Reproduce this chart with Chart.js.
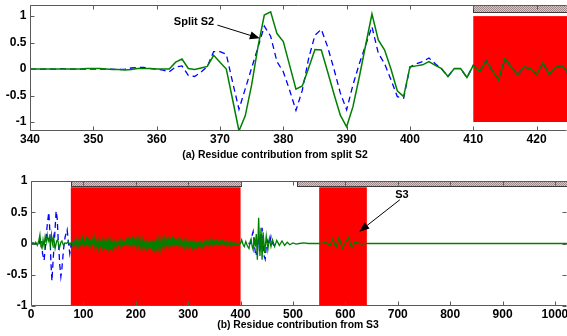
<!DOCTYPE html>
<html>
<head>
<meta charset="utf-8">
<script src="https://cdn.jsdelivr.net/npm/chart.js@4.4.1/dist/chart.umd.min.js"></script>
<style>
  html, body { margin: 0; padding: 0; background: #fff; }
  #wrap { width: 567px; height: 336px; overflow: hidden; }
  canvas { display: block; }
</style>
</head>
<body>
<div id="wrap">
  <canvas id="chartS2" width="567" height="166"></canvas>
  <canvas id="chartS3" width="567" height="170"></canvas>
</div>
<script>
// ---- panel (a): residues 340..425, one value per residue ----
const s2Start = 340;
const s2Green = [
  0, 0, 0, 0, 0, 0, 0, 0, 0, 0.01, 0.01, 0.01, 0, -0.01, -0.01, -0.02, -0.01, 0.01, 0.01, 0.01, 0, 0,
  0, 0.13, 0.19, 0.01, -0.01, 0.02, 0.05, 0.26, 0.13, 0,
  -0.58, -1.17, -0.88, -0.3, 0.42, 1.02, 1.08, 0.67, 0.52, 0.07,
  -0.38, -0.32, 0.02, 0.37, 0.36, -0.05, -0.47, -0.87, -1.09, -0.71,
  -0.15, 0.45, 1.04, 0.55, 0.36, 0, -0.41, -0.52, 0.04, 0.06,
  0.08, 0.14, 0.07, 0.01, -0.14, 0.01, 0.01, -0.16, 0.07, -0.05,
  0.16, -0.03, -0.2, 0.2, 0.04, -0.11, 0.04, 0.01, -0.1, 0.12,
  -0.1, 0.03, 0.07, -0.08
];
const s2Blue = [
  0, 0, 0, 0, 0, 0.01, 0, 0, 0, 0, 0, 0, 0, 0, -0.01, 0, 0.02, 0.03, 0.03, 0.01, 0, -0.02,
  -0.05, 0.04, 0.06, -0.12, -0.14, -0.06, 0.05, 0.33, 0.33, 0.28,
  -0.25, -0.76, -0.37, 0.02, 0.41, 0.81, 0.62, 0.14, -0.05, -0.4,
  -0.78, -0.4, 0.2, 0.64, 0.75, 0.42, 0, -0.45, -0.77, -0.3,
  0.1, 0.45, 0.8, 0.3, 0.1, -0.2, -0.52, -0.55, 0.04, 0.1,
  0.14, 0.21, 0.1, 0, -0.14, 0.01, 0.01, -0.16, 0.07, -0.05,
  0.16, -0.03, -0.2, 0.2, 0.04, -0.11, 0.04, 0.01, -0.1, 0.12,
  -0.1, 0.03, 0.07, -0.08
];
const s2XTicks = [340, 350, 360, 370, 380, 390, 400, 410, 420];
const s2YTicks = [-1, -0.5, 0, 0.5, 1];
const s2Red = [[410, 430, -1, 1]];          // [x0, x1, y0, y1]
const s2Hatch = [[410, 430, 1.06, 1.3]];

// ---- panel (b): residues 0..1023 ----
const s3HeadX = [0, 3, 6, 9, 12, 15, 17, 19, 21, 23, 25, 27, 29, 31, 33, 35, 37, 39, 41, 43, 46, 49, 51, 54, 57, 59, 62, 65, 68, 71, 74, 76];
const s3HeadY = [0, 0.01, -0.01, 0.02, -0.03, 0.05, 0.14, -0.05, -0.08, 0.06, -0.04, 0.11, 0.02, 0.14, 0.04, 0.09, -0.03, 0.14, 0, 0.11, -0.08, 0.04, 0.06, -0.08, 0.02, 0.04, -0.03, 0.01, 0, 0.03, -0.02, 0.01];
// green noise inside the first red block, one value every 2 residues from 78 to 400
const s3NoiseStart = 78;
const s3Noise = [
  0.02, -0.04, 0.05, -0.02, 0.06, -0.05, 0.03, -0.07, 0.04, -0.03,
  0.08, -0.06, 0.02, -0.05, 0.07, -0.04, 0.05, -0.08, 0.03, -0.02,
  0.06, -0.07, 0.09, -0.05, 0.04, -0.09, 0.06, -0.03, 0.05, -0.06,
  0.11, -0.08, 0.07, -0.1, 0.09, -0.06, 0.12, -0.09, 0.05, -0.07,
  0.06, -0.04, 0.03, -0.05, 0.04, -0.02, 0.05, -0.06, 0.03, -0.04,
  0.02, -0.03, 0.05, -0.04, 0.06, -0.05, 0.04, -0.06, 0.07, -0.03,
  0.05, -0.08, 0.06, -0.04, 0.08, -0.07, 0.05, -0.06, 0.09, -0.05,
  0.04, -0.07, 0.06, -0.05, 0.03, -0.04, 0.07, -0.06, 0.05, -0.08,
  0.08, -0.06, 0.1, -0.07, 0.06, -0.09, 0.07, -0.05, 0.08, -0.07,
  0.05, -0.04, 0.06, -0.08, 0.04, -0.05, 0.07, -0.06, 0.05, -0.03,
  0.04, -0.06, 0.05, -0.04, 0.06, -0.05, 0.03, -0.07, 0.05, -0.04,
  0.06, -0.05, 0.04, -0.03, 0.05, -0.06, 0.07, -0.04, 0.03, -0.05,
  0.04, -0.03, 0.05, -0.04, 0.02, -0.05, 0.04, -0.03, 0.05, -0.02,
  0.03, -0.04, 0.05, -0.03, 0.04, -0.05, 0.03, -0.02, 0.04, -0.03,
  0.02, -0.04, 0.03, -0.02, 0.04, -0.03, 0.02, -0.03, 0.03, -0.02,
  0.02, -0.03, 0.03, -0.02, 0.02, -0.01, 0.02, -0.02, 0.01, -0.01,
  0.01, 0
];
const s3TailX = [402, 405, 407, 410, 413, 416, 418, 420, 422, 424, 426, 428, 430, 432, 434.5, 437, 439, 441, 443, 446, 449, 452, 455, 458, 461, 465, 469, 474, 479, 484, 489, 494, 500, 506, 512, 520, 530, 545, 552, 558, 564, 570, 576, 582, 588, 594, 600, 606, 612, 618, 624, 630, 636, 700, 800, 900, 1023];
const s3TailY = [0.06, -0.02, -0.05, 0.03, -0.04, -0.08, 0.02, 0.07, -0.04, -0.1, 0.1, -0.05, 0.15, -0.26, 0.41, -0.2, 0.25, -0.26, 0.18, -0.15, 0.12, -0.1, 0.08, -0.05, 0.06, -0.05, 0.05, -0.03, 0.04, -0.03, 0.02, -0.02, 0.01, -0.01, 0, 0.01, 0, 0, 0, 0.01, 0.03, -0.04, 0.07, -0.06, 0.1, -0.08, 0.02, 0.1, -0.07, 0.02, 0.01, -0.01, 0, 0, 0, 0, 0];
const s3BlueHeadX = [0, 4, 8, 12, 15, 17, 19, 21, 22, 25, 28, 31, 34, 36, 38, 40, 42, 45, 48, 50, 52, 55, 57, 59, 62, 65, 69, 71, 74, 77, 80];
const s3BlueHeadY = [0, 0.01, -0.01, 0.01, -0.02, 0.06, 0.09, 0, -0.16, -0.27, 0, 0.3, 0.5, 0.2, -0.3, -0.6, -0.3, 0.1, 0.52, 0.4, 0.05, -0.35, -0.53, -0.4, -0.1, 0.1, 0.22, 0.05, -0.16, 0, 0.01];
const s3BlueBurstX = [415, 419, 421, 424, 426, 429, 432, 434, 437, 439, 441, 443, 445, 447, 449, 452, 455, 458, 461, 464, 467];
const s3BlueBurstY = [0, 0, 0.1, 0.19, 0, -0.2, -0.12, 0.05, -0.15, 0.1, 0.25, 0.05, -0.2, -0.25, -0.05, 0.05, -0.02, 0.11, 0, -0.03, 0];
const s3XTicks = [0, 100, 200, 300, 400, 500, 600, 700, 800, 900, 1000];
const s3YTicks = [-1, -0.5, 0, 0.5, 1];
const s3Red = [[76, 400, -1, 0.9], [550, 641, -1, 0.9]];
const s3Hatch = [[77, 403, 0.9, 1], [508, 1100, 0.9, 1]];

const FONT = '"Liberation Sans", Arial, sans-serif';

function pairs(xs, ys) {
    return xs.map((x, i) => ({ x: x, y: ys[i] }));
}

// fine cross hatch like the matlab patch fill
function hatchFill(ctx) {
    const c = document.createElement('canvas');
    c.width = 2; c.height = 2;
    const g = c.getContext('2d');
    g.fillStyle = '#d8c6c6';
    g.fillRect(0, 0, 2, 2);
    g.fillStyle = '#a08c8c';
    g.fillRect(0, 0, 1, 1);
    g.fillRect(1, 1, 1, 1);
    return ctx.createPattern(c, 'repeat');
}

// draws the shaded blocks, the matlab style box, ticks, labels, caption and arrow note
const panelPlugin = {
    id: 'panel',
    beforeDatasetsDraw(chart, args, o) {
        const { ctx, chartArea: a, scales: { x, y } } = chart;
        ctx.save();
        ctx.beginPath();
        ctx.rect(a.left, a.top, a.right - a.left, a.bottom - a.top);
        ctx.clip();
        o.red.forEach(r => {
            const l = x.getPixelForValue(r[0]), rr = x.getPixelForValue(r[1]);
            const t = y.getPixelForValue(r[3]), b = y.getPixelForValue(r[2]);
            ctx.fillStyle = '#ff0000';
            ctx.fillRect(l, t, rr - l, b - t);
        });
        const pat = hatchFill(ctx);
        o.hatch.forEach(r => {
            const l = Math.round(x.getPixelForValue(r[0])), rr = Math.round(x.getPixelForValue(r[1]));
            const t = Math.round(y.getPixelForValue(r[3])), b = Math.round(y.getPixelForValue(r[2]));
            ctx.fillStyle = pat;
            ctx.fillRect(l, t, rr - l, b - t);
            ctx.strokeStyle = '#3c3c3c';
            ctx.lineWidth = 1;
            ctx.strokeRect(l + 0.5, t + 0.5, rr - l - 1, b - t - 1);
        });
        ctx.restore();
    },
    afterDatasetsDraw(chart, args, o) {
        const { ctx, chartArea: a, scales: { x, y } } = chart;
        const L = Math.round(a.left) + 0.5, T = Math.round(a.top) + 0.5;
        const B = Math.round(a.bottom) - 0.5, R = Math.round(a.right) - 0.5;
        ctx.save();
        ctx.strokeStyle = '#5a5a5a';
        ctx.lineWidth = 1;
        ctx.beginPath();
        ctx.moveTo(R, T); ctx.lineTo(L, T); ctx.lineTo(L, B); ctx.lineTo(R, B);
        o.xTicks.forEach(v => {
            const p = Math.round(x.getPixelForValue(v)) + 0.5;
            ctx.moveTo(p, B); ctx.lineTo(p, B - 4);
            ctx.moveTo(p, T); ctx.lineTo(p, T + 4);
        });
        o.yTicks.forEach(v => {
            const p = Math.round(y.getPixelForValue(v)) + 0.5;
            ctx.moveTo(L, p); ctx.lineTo(L + 4, p);
            if (o.rightTicks) { ctx.moveTo(R, p); ctx.lineTo(R - 4, p); }
        });
        ctx.stroke();

        ctx.fillStyle = '#000';
        ctx.font = 'bold 12px ' + FONT;
        ctx.textAlign = 'center';
        ctx.textBaseline = 'top';
        o.xTicks.forEach(v => ctx.fillText(String(v), x.getPixelForValue(v), B + 3));
        ctx.textAlign = 'right';
        ctx.textBaseline = 'middle';
        o.yTicks.forEach(v => ctx.fillText(String(v), L - 4, y.getPixelForValue(v)));

        ctx.font = 'bold 10.4px ' + FONT;
        ctx.textAlign = 'center';
        ctx.fillText(o.caption, o.captionAt[0], o.captionAt[1]);

        if (o.note) {
            const n = o.note;
            ctx.font = 'bold 11px ' + FONT;
            ctx.fillText(n.text, x.getPixelForValue(n.at[0]), y.getPixelForValue(n.at[1]));
            const x0 = x.getPixelForValue(n.from[0]), y0 = y.getPixelForValue(n.from[1]);
            const x1 = x.getPixelForValue(n.to[0]), y1 = y.getPixelForValue(n.to[1]);
            const ang = Math.atan2(y1 - y0, x1 - x0);
            ctx.strokeStyle = '#000';
            ctx.beginPath();
            ctx.moveTo(x0, y0);
            ctx.lineTo(x1 - 8 * Math.cos(ang), y1 - 8 * Math.sin(ang));
            ctx.stroke();
            ctx.beginPath();
            ctx.moveTo(x1, y1);
            ctx.lineTo(x1 - 10 * Math.cos(ang) + 4 * Math.sin(ang), y1 - 10 * Math.sin(ang) - 4 * Math.cos(ang));
            ctx.lineTo(x1 - 10 * Math.cos(ang) - 4 * Math.sin(ang), y1 - 10 * Math.sin(ang) + 4 * Math.cos(ang));
            ctx.closePath();
            ctx.fill();
        }
        ctx.restore();
    }
};

function createPanel(canvasId, green, blue, xr, yr, pad, panelOpts, greenWidth) {
    return new Chart(document.getElementById(canvasId), {
        type: 'line',
        data: {
            datasets: [{
                label: 'green',
                data: green,
                borderColor: '#008000',
                borderWidth: greenWidth,
                pointRadius: 0,
                tension: 0
            }, {
                label: 'blue',
                data: blue,
                borderColor: '#0000ff',
                borderWidth: 1.3,
                borderDash: [6, 4],
                pointRadius: 0,
                tension: 0,
                spanGaps: false
            }]
        },
        options: {
            responsive: false,
            animation: false,
            layout: { padding: pad },
            scales: {
                x: { type: 'linear', min: xr[0], max: xr[1], display: false },
                y: { type: 'linear', min: yr[0], max: yr[1], display: false }
            },
            plugins: {
                legend: { display: false },
                tooltip: { enabled: false },
                panel: panelOpts
            }
        },
        plugins: [panelPlugin]
    });
}

const s2GreenPts = s2Green.map((v, i) => ({ x: s2Start + i, y: v }));
const s2BluePts = s2Blue.map((v, i) => ({ x: s2Start + i, y: v }));

createPanel('chartS2', s2GreenPts, s2BluePts, [340, 424.8], [-1.17, 1.21],
    { left: 30, right: 0, top: 5, bottom: 35 },
    {
        red: s2Red, hatch: s2Hatch, xTicks: s2XTicks, yTicks: s2YTicks, rightTicks: false,
        caption: '(a) Residue contribution from split S2', captionAt: [275, 155],
        note: { text: 'Split S2', at: [365.9, 0.89], from: [369.6, 0.83], to: [376.3, 0.58] }
    }, 1.5);

const s3GreenPts = pairs(s3HeadX, s3HeadY)
    .concat(s3Noise.map((v, i) => ({ x: s3NoiseStart + 2 * i, y: v })))
    .concat(pairs(s3TailX, s3TailY));
const s3BluePts = pairs(s3BlueHeadX, s3BlueHeadY)
    .concat([{ x: 200, y: null }])
    .concat(pairs(s3BlueBurstX, s3BlueBurstY));

createPanel('chartS3', s3GreenPts, s3BluePts, [0, 1023], [-1, 1],
    { left: 31, right: 0, top: 15, bottom: 30 },
    {
        red: s3Red, hatch: s3Hatch, xTicks: s3XTicks, yTicks: s3YTicks, rightTicks: true,
        caption: '(b) Residue contribution from S3', captionAt: [298, 159],
        note: { text: 'S3', at: [708, 0.78], from: [704, 0.7], to: [626.5, 0.19] }
    }, 1.3);
</script>
</body>
</html>
